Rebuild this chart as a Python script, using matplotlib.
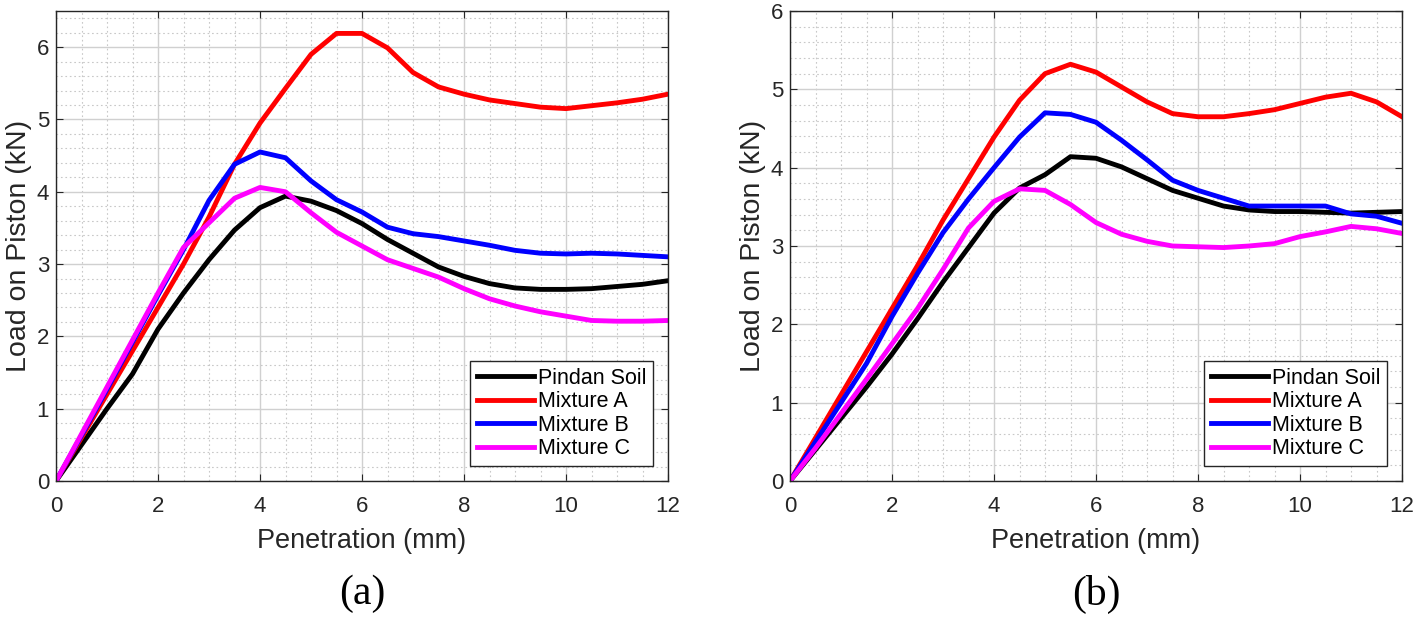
import numpy as np
import matplotlib.pyplot as plt
from matplotlib.ticker import MultipleLocator

# penetration (mm), 0.5 mm steps
pen = np.arange(0, 12.01, 0.5)
labels = ['Pindan Soil', 'Mixture A', 'Mixture B', 'Mixture C']
colors = ['black', 'red', 'blue', 'magenta']

# (a) load on piston (kN)
a_soil = [0, 0.5, 1.0, 1.48, 2.1, 2.6, 3.06, 3.47, 3.78, 3.94, 3.87, 3.74, 3.56,
          3.34, 3.15, 2.96, 2.83, 2.73, 2.67, 2.65, 2.65, 2.66, 2.69, 2.72, 2.77]
a_mixA = [0, 0.6, 1.2, 1.8, 2.4, 3.0, 3.65, 4.38, 4.95, 5.43, 5.9, 6.19, 6.19,
          5.99, 5.65, 5.45, 5.35, 5.27, 5.22, 5.17, 5.15, 5.19, 5.23, 5.28, 5.35]
a_mixB = [0, 0.63, 1.27, 1.92, 2.57, 3.2, 3.88, 4.38, 4.55, 4.47, 4.15, 3.89, 3.72,
          3.51, 3.42, 3.38, 3.32, 3.26, 3.19, 3.15, 3.14, 3.15, 3.14, 3.12, 3.10]
a_mixC = [0, 0.65, 1.3, 1.95, 2.6, 3.23, 3.57, 3.91, 4.06, 4.0, 3.71, 3.44, 3.25,
          3.06, 2.94, 2.82, 2.66, 2.52, 2.42, 2.34, 2.28, 2.22, 2.21, 2.21, 2.22]

# (b) load on piston (kN)
b_soil = [0, 0.4, 0.8, 1.2, 1.62, 2.07, 2.54, 2.98, 3.42, 3.74, 3.91, 4.14, 4.12,
          4.01, 3.86, 3.71, 3.61, 3.51, 3.46, 3.44, 3.44, 3.43, 3.42, 3.43, 3.44]
b_mixA = [0, 0.55, 1.1, 1.65, 2.2, 2.75, 3.33, 3.86, 4.39, 4.86, 5.2, 5.32, 5.22,
          5.03, 4.84, 4.69, 4.65, 4.65, 4.69, 4.74, 4.82, 4.9, 4.95, 4.84, 4.65]
b_mixB = [0, 0.5, 1.0, 1.5, 2.1, 2.65, 3.17, 3.6, 4.0, 4.39, 4.7, 4.68, 4.58,
          4.35, 4.1, 3.84, 3.71, 3.61, 3.51, 3.51, 3.51, 3.51, 3.41, 3.38, 3.29]
b_mixC = [0, 0.42, 0.86, 1.3, 1.75, 2.2, 2.7, 3.23, 3.57, 3.73, 3.71, 3.53, 3.3,
          3.15, 3.06, 3.0, 2.99, 2.98, 3.0, 3.03, 3.12, 3.18, 3.25, 3.22, 3.16]

plt.rcParams['font.family'] = ['Liberation Sans', 'DejaVu Sans']

fig = plt.figure(figsize=(14.18, 6.17), dpi=100)
ax1 = fig.add_axes([56 / 1418, 1 - 481 / 617, 612 / 1418, 470 / 617])
ax2 = fig.add_axes([790 / 1418, 1 - 481 / 617, 612 / 1418, 470 / 617])

panels = [(ax1, [a_soil, a_mixA, a_mixB, a_mixC], 6.5, '(a)'),
          (ax2, [b_soil, b_mixA, b_mixB, b_mixC], 6.0, '(b)')]

for ax, series, ymax, tag in panels:
    for vals, lab, c in zip(series, labels, colors):
        ax.plot(pen, vals, color=c, lw=3.5, label=lab)
    ax.set_xlim(0, 12)
    ax.set_ylim(0, ymax)
    ax.xaxis.set_major_locator(MultipleLocator(2))
    ax.xaxis.set_minor_locator(MultipleLocator(0.5))
    ax.yaxis.set_major_locator(MultipleLocator(1))
    ax.yaxis.set_minor_locator(MultipleLocator(0.2))
    ax.grid(True, which='major', color='#d0d0d0', lw=1)
    ax.grid(True, which='minor', color='#c8c8c8', lw=0.8, ls=(0, (1.5, 2.5)))
    ax.set_axisbelow(True)
    ax.tick_params(which='both', direction='in', top=True, right=True,
                   labelsize=16, colors='#262626')
    ax.tick_params(axis='x', pad=11)
    ax.tick_params(axis='y', pad=5)
    ax.tick_params(which='major', length=5)
    ax.tick_params(which='minor', length=0)
    for sp in ax.spines.values():
        sp.set_color('#262626')
        sp.set_linewidth(1)
    ax.set_xlabel('Penetration (mm)', fontsize=19.5, color='#262626')
    ax.set_ylabel('Load on Piston (kN)', fontsize=20.5, color='#262626')
    ax.xaxis.set_label_coords(0.5, -60 / 470)
    ax.xaxis.label.set_va('center')
    ax.yaxis.set_label_coords(-37 / 612, 0.5)
    ax.yaxis.label.set_va('center')
    leg = ax.legend(loc='lower right', fontsize=15.5, fancybox=False, framealpha=1,
                    edgecolor='#262626', handlelength=2.65, handletextpad=0.2,
                    labelspacing=0.12, borderpad=0.3, borderaxespad=0.7)
    leg.get_frame().set_linewidth(1)
    ax.text(0.5, -113 / 470, tag, transform=ax.transAxes, ha='center', va='center',
            fontsize=30, family='Liberation Serif')

plt.savefig('out.png', dpi=100)
